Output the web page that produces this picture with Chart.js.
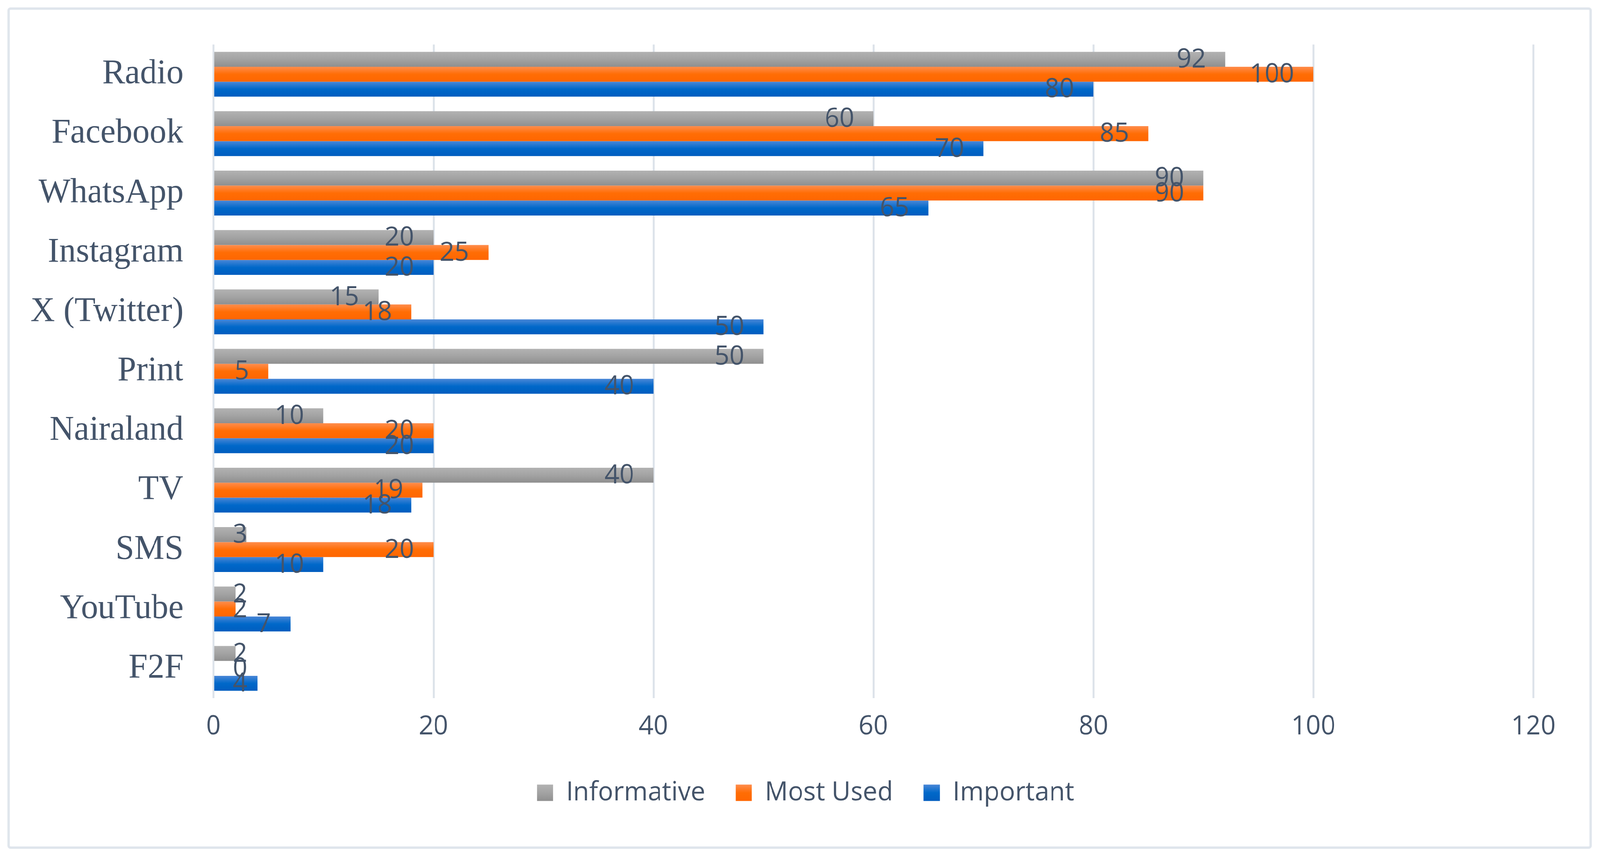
<!DOCTYPE html>
<html>
<head>
<meta charset="utf-8">
<script src="https://cdn.jsdelivr.net/npm/chart.js@4.4.1/dist/chart.umd.min.js"></script>
<style>
  html, body { margin: 0; background: #fff; overflow: hidden; }
  #page { position: absolute; left: 0; top: 0; width: 4153px; height: 2195px; transform-origin: 0 0; }
  #frame {
    position: absolute; left: 19px; top: 19px;
    width: 4113px; height: 2155px; box-sizing: border-box;
    border: 6px solid #dfe5ec; border-radius: 8px; background: #fff;
  }
  #wrap { position: relative; width: 4101px; height: 2143px; }
</style>
</head>
<body>
<div id="page"><div id="frame"><div id="wrap"><canvas id="mediaChart"></canvas></div></div></div>
<script>
// channels, top to bottom
const channels = ['Radio', 'Facebook', 'WhatsApp', 'Instagram', 'X (Twitter)', 'Print',
                  'Nairaland', 'TV', 'SMS', 'YouTube', 'F2F'];
const informative = [92, 60, 90, 20, 15, 50, 10, 40, 3, 2, 2];
const mostUsed    = [100, 85, 90, 25, 18, 5, 20, 19, 20, 2, 0];
const important   = [80, 70, 65, 20, 50, 40, 20, 18, 10, 7, 4];
const xTicks = [0, 20, 40, 60, 80, 100, 120];

// the window may be narrower than the 4153px picture, squeeze the page to fit
const page = document.getElementById('page');
page.style.transform = 'scaleX(' + (window.innerWidth / 4153) + ')';

const textColor = '#44546a';
const sansFont = "'Open Sans', sans-serif";

// gradient stops per series: light top -> darker bottom
const shades = {
  gray:   ['#b2b2b2', '#a3a3a3', '#8f8f8f'],
  orange: ['#ff8d4d', '#ff6d05', '#ff6600'],
  blue:   ['#4a87d7', '#0068c9', '#005dbf']
};
const palette = [shades.gray, shades.orange, shades.blue];

function makeGradient(ctx, top, bottom, stops) {
  const g = ctx.createLinearGradient(0, top, 0, bottom);
  g.addColorStop(0, stops[0]);
  g.addColorStop(0.5, stops[1]);
  g.addColorStop(1, stops[2]);
  return g;
}

// fill each bar with its own vertical gradient (positions known after first layout)
function barFill(stops) {
  return function (c) {
    const meta = c.chart.getDatasetMeta(c.datasetIndex);
    const el = meta.data[c.dataIndex];
    if (!el || el.y === undefined || el.height === undefined || isNaN(el.y)) return stops[1];
    return makeGradient(c.chart.ctx, el.y - el.height / 2, el.y + el.height / 2, stops);
  };
}

// Excel style "inside end" value labels
const valueLabels = {
  id: 'valueLabels',
  afterDatasetsDraw(chart) {
    const ctx = chart.ctx;
    const left = chart.chartArea.left;
    ctx.save();
    ctx.font = "67px " + sansFont;
    ctx.fillStyle = textColor;
    ctx.textBaseline = 'middle';
    ctx.textAlign = 'left';
    chart.data.datasets.forEach((ds, di) => {
      const meta = chart.getDatasetMeta(di);
      meta.data.forEach((bar, i) => {
        const txt = String(ds.data[i]);
        const w = ctx.measureText(txt).width;
        let x = bar.x - 50 - w;
        if (x < left + 50) x = left + 50;
        ctx.fillText(txt, x, bar.y + 2);
      });
    });
    ctx.restore();
  }
};

const LEGEND_PAD = 79;
const LEGEND_CENTER = 2066;

// gradient legend boxes and centre the legend row like the original
const legendTweak = {
  id: 'legendTweak',
  afterUpdate(chart) {
    const lg = chart.legend;
    if (!lg || !lg.legendItems) return;
    const visible = lg.lineWidths[0] - LEGEND_PAD;
    const start = (lg.left + LEGEND_PAD + lg.right - lg.lineWidths[0]) / 2;
    const dx = (LEGEND_CENTER - visible / 2) - start;
    lg.left += dx;
    lg.right += dx;
    lg.legendItems.forEach((it, i) => {
      const hb = lg.legendHitBoxes[i];
      const mid = hb.top + hb.height / 2;
      it.fillStyle = makeGradient(chart.ctx, mid - 21, mid + 21, palette[i]);
    });
  }
};

function legendLabels(chart) {
  const items = Chart.defaults.plugins.legend.labels.generateLabels(chart);
  items.forEach((it, i) => {
    it.fillStyle = palette[i][1];
    it.strokeStyle = 'rgba(0,0,0,0)';
    it.lineWidth = 0;
  });
  return items;
}

function noScalePadding(scale) {
  scale.paddingTop = 0; scale.paddingBottom = 0;
  scale.paddingLeft = 0; scale.paddingRight = 0;
}

const chart = new Chart(document.getElementById('mediaChart'), {
  type: 'bar',
  data: {
    labels: channels,
    datasets: [
      { label: 'Informative', data: informative, backgroundColor: barFill(shades.gray) },
      { label: 'Most Used', data: mostUsed, backgroundColor: barFill(shades.orange) },
      { label: 'Important', data: important, backgroundColor: barFill(shades.blue) }
    ]
  },
  options: {
    indexAxis: 'y',
    responsive: true,
    maintainAspectRatio: false,
    animation: false,
    events: [],
    categoryPercentage: 0.755,
    barPercentage: 1.0,
    layout: { padding: { top: 89, right: 146, left: 0, bottom: 94 } },
    scales: {
      x: {
        min: 0, max: 120,
        afterBuildTicks(scale) { scale.ticks = xTicks.map(v => ({ value: v })); },
        afterFit(scale) { scale.height = 130; noScalePadding(scale); },
        grid: { color: '#dde3ea', lineWidth: 5, drawTicks: false },
        border: { display: false },
        ticks: { color: textColor, font: { family: sansFont, size: 67 }, padding: 34 }
      },
      y: {
        afterFit(scale) { scale.width = 529; noScalePadding(scale); },
        grid: { display: false, drawTicks: false },
        border: { display: false },
        ticks: { color: textColor, font: { family: "'Liberation Serif', 'Times New Roman', serif", size: 88 }, padding: 78 }
      }
    },
    plugins: {
      legend: {
        position: 'bottom',
        labels: {
          color: textColor,
          font: { family: sansFont, size: 67 },
          boxWidth: 42,
          boxHeight: 42,
          padding: LEGEND_PAD,
          generateLabels: legendLabels
        }
      },
      tooltip: { enabled: false }
    }
  },
  plugins: [valueLabels, legendTweak]
});
chart.update();
</script>
</body>
</html>
